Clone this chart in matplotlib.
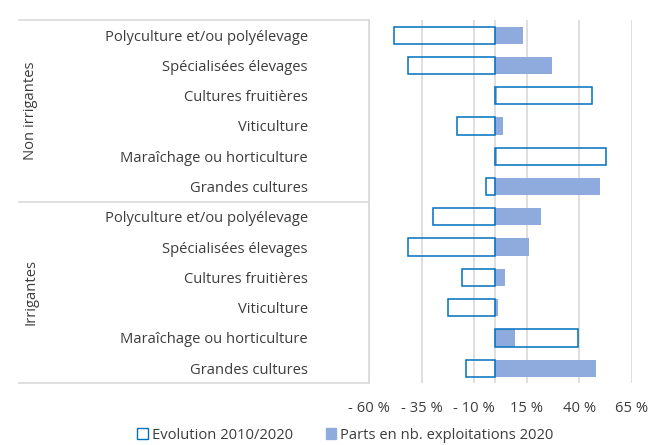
import matplotlib
matplotlib.use("Agg")
import matplotlib.pyplot as plt
from matplotlib.patches import Patch
import matplotlib.transforms as mtransforms

plt.rcParams['font.family'] = ['Open Sans', 'DejaVu Sans']

# ---------------------------------
#  data
labels = ['Polyculture et/ou polyélevage', 'Spécialisées élevages',
          'Cultures fruitières', 'Viticulture',
          'Maraîchage ou horticulture', 'Grandes cultures']
groups = ['Non irrigantes', 'Irrigantes']
evol_non = [-48.0, -41.3, 46.0, -18.1, 52.9, -4.4]
parts_non = [13.3, 26.8, 0.8, 3.8, 1.0, 49.9]
evol_irr = [-29.8, -41.3, -15.7, -22.3, 39.5, -13.8]
parts_irr = [21.9, 16.2, 4.5, 1.1, 9.5, 47.7]
xticks = [-60, -35, -10, 15, 40, 65]

txt = '#3c3c3c'
grid_c = '#d9d9d9'
blue_edge = '#0070C0'
blue_fill = '#8FAADC'
fs = 10.6

evol = evol_non + evol_irr
parts = parts_non + parts_irr
ylab = labels + labels
ypos = list(range(len(ylab)))

fig = plt.figure(figsize=(6.62, 4.45), dpi=100)
ax = fig.add_axes([369 / 662, 1 - 383.3 / 445, 262.9 / 662, 363.3 / 445])

ax.barh(ypos, parts, height=0.57, color=blue_fill, zorder=2)
ax.barh(ypos, evol, height=0.57, facecolor='none', edgecolor=blue_edge,
        linewidth=1.1, zorder=3)

ax.set_xlim(-60, 65)
ax.set_ylim(len(ylab) - 0.5, -0.5)
ax.set_xticks(xticks)
ax.set_xticklabels([('- %d %%' % abs(v)) if v < 0 else ('%d %%' % v) for v in xticks])
ax.set_yticks(ypos)
ax.set_yticklabels(ylab)
ax.tick_params(axis='both', length=0, colors=txt, labelsize=fs)
ax.tick_params(axis='y', pad=44)
ax.tick_params(axis='x', pad=13)
ax.grid(axis='x', color=grid_c, linewidth=1.2, zorder=0)
ax.axvline(0, color=grid_c, linewidth=1.2, zorder=1)
for s in ['top', 'right', 'bottom']:
    ax.spines[s].set_visible(False)
ax.spines['left'].set_color(grid_c)
ax.spines['left'].set_linewidth(1.2)

# group separators + group labels (multi level axis)
tr = mtransforms.blended_transform_factory(fig.transFigure, ax.transData)
x0 = 19 / 662
x1 = 369 / 662
for yb in [-0.5, 5.5, 11.5]:
    ax.plot([x0, x1], [yb, yb], transform=tr, color=grid_c, linewidth=1.2, clip_on=False)
for i, g in enumerate(groups):
    ax.text(31 / 662, i * 6 + 2.5, g, transform=tr, rotation=90, ha='center',
            va='center', color=txt, fontsize=fs)

handles = [Patch(facecolor='white', edgecolor=blue_edge, linewidth=1.0),
           Patch(facecolor=blue_fill, edgecolor=blue_fill)]
fig.legend(handles, ['Evolution 2010/2020', 'Parts en nb. exploitations 2020'],
           loc='center', bbox_to_anchor=(0.522, 0.022), ncol=2, frameon=False,
           fontsize=fs, labelcolor=txt, handlelength=0.7, handleheight=0.7,
           handletextpad=0.3, columnspacing=2.2)

fig.savefig('out.png', dpi=100)
